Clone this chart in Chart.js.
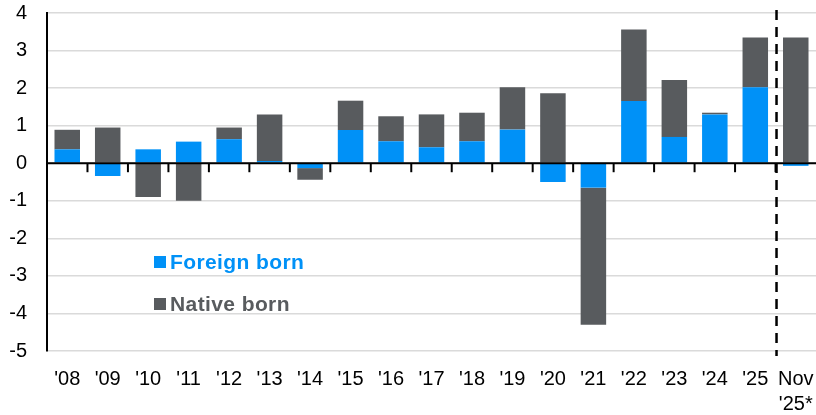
<!DOCTYPE html>
<html>
<head>
<meta charset="utf-8">
<script src="https://cdn.jsdelivr.net/npm/chart.js@4"></script>
<style>
  body { margin: 0; background: #fff; }
  #wrap { width: 816px; height: 415px; }
</style>
</head>
<body>
<div id="wrap"><canvas id="chart" width="816" height="415"></canvas></div>
<script>
// Data
const categories = ["'08", "'09", "'10", "'11", "'12", "'13", "'14", "'15", "'16", "'17",
  "'18", "'19", "'20", "'21", "'22", "'23", "'24", "'25", ["Nov", "'25*"]];
const foreignBorn = [0.37, -0.34, 0.37, 0.575, 0.64, 0.06, -0.13, 0.885, 0.585, 0.425,
  0.585, 0.895, -0.5, -0.65, 1.66, 0.70, 1.30, 2.02, -0.07];
const nativeBorn = [0.52, 0.95, -0.9, -1.0, 0.31, 1.24, -0.31, 0.78, 0.665, 0.875,
  0.76, 1.125, 1.86, -3.65, 1.90, 1.515, 0.045, 1.33, 3.35];
const seriesNames = ['Foreign born', 'Native born'];
const yMin = -5;
const yMax = 4;

const BLUE = '#0091f7';
const GREY = '#585b5e';
const FONT = "'Liberation Sans', Arial, sans-serif";

// zero line, tick marks, dashed divider and the legend
const overlay = {
  id: 'overlay',
  afterDatasetsDraw(chart) {
    const ctx = chart.ctx;
    const x = chart.scales.x;
    const y = chart.scales.y;
    const area = chart.chartArea;
    const y0 = y.getPixelForValue(0);
    ctx.save();
    ctx.strokeStyle = '#000';
    ctx.lineWidth = 2;
    ctx.beginPath();
    ctx.moveTo(area.left, y0);
    ctx.lineTo(area.right, y0);
    ctx.stroke();
    for (let i = 0; i < categories.length - 1; i++) {
      const bx = (x.getPixelForValue(i) + x.getPixelForValue(i + 1)) / 2;
      ctx.beginPath();
      ctx.moveTo(bx, y0);
      ctx.lineTo(bx, y0 + 9);
      ctx.stroke();
    }
    // divider before the latest month
    const n = categories.length;
    const dx = (x.getPixelForValue(n - 2) + x.getPixelForValue(n - 1)) / 2 + 1;
    ctx.lineWidth = 2.5;
    ctx.setLineDash([10, 7]);
    ctx.beginPath();
    ctx.moveTo(dx, area.top - 3);
    ctx.lineTo(dx, area.bottom + 5);
    ctx.stroke();
    ctx.setLineDash([]);

    // legend
    const colors = [BLUE, GREY];
    const rows = [262, 304];
    ctx.font = 'bold 21px ' + FONT;
    ctx.textBaseline = 'middle';
    if ('letterSpacing' in ctx) ctx.letterSpacing = '0.4px';
    seriesNames.forEach((name, i) => {
      ctx.fillStyle = colors[i];
      ctx.fillRect(154, rows[i] - 6, 12, 12);
      ctx.fillText(name, 170, rows[i] + 1);
    });
    ctx.restore();
  }
};

var ctx = document.getElementById('chart').getContext('2d');
var chart = new Chart(ctx, {
  type: 'bar',
  data: {
    labels: categories,
    datasets: [{
      label: seriesNames[0],
      data: foreignBorn,
      backgroundColor: BLUE,
      barPercentage: 0.63,
      categoryPercentage: 1,
    }, {
      label: seriesNames[1],
      data: nativeBorn,
      backgroundColor: GREY,
      barPercentage: 0.63,
      categoryPercentage: 1,
    }]
  },
  options: {
    responsive: false,
    animation: false,
    layout: {
      padding: { top: 13, right: 0, left: 0, bottom: 0 }
    },
    scales: {
      x: {
        stacked: true,
        grid: { display: false },
        border: { display: false },
        ticks: {
          color: '#000',
          font: { family: FONT, size: 20, lineHeight: 1.25 },
          padding: 8,
          maxRotation: 0,
          autoSkip: false,
        },
        afterFit(scale) {
          scale.height = 64;
          scale.paddingLeft = 0;
          scale.paddingRight = 0;
        }
      },
      y: {
        stacked: true,
        min: yMin,
        max: yMax,
        grid: { color: '#dadada', lineWidth: 1.5, drawTicks: false },
        border: { display: true, color: '#000', width: 2 },
        ticks: {
          stepSize: 1,
          color: '#000',
          font: { family: FONT, size: 20 },
          padding: 20,
        },
        afterFit(scale) {
          scale.width = 47;
          scale.paddingTop = 0;
          scale.paddingBottom = 0;
        }
      }
    },
    plugins: {
      legend: { display: false },
      tooltip: { enabled: false }
    }
  },
  plugins: [overlay]
});
</script>
</body>
</html>
